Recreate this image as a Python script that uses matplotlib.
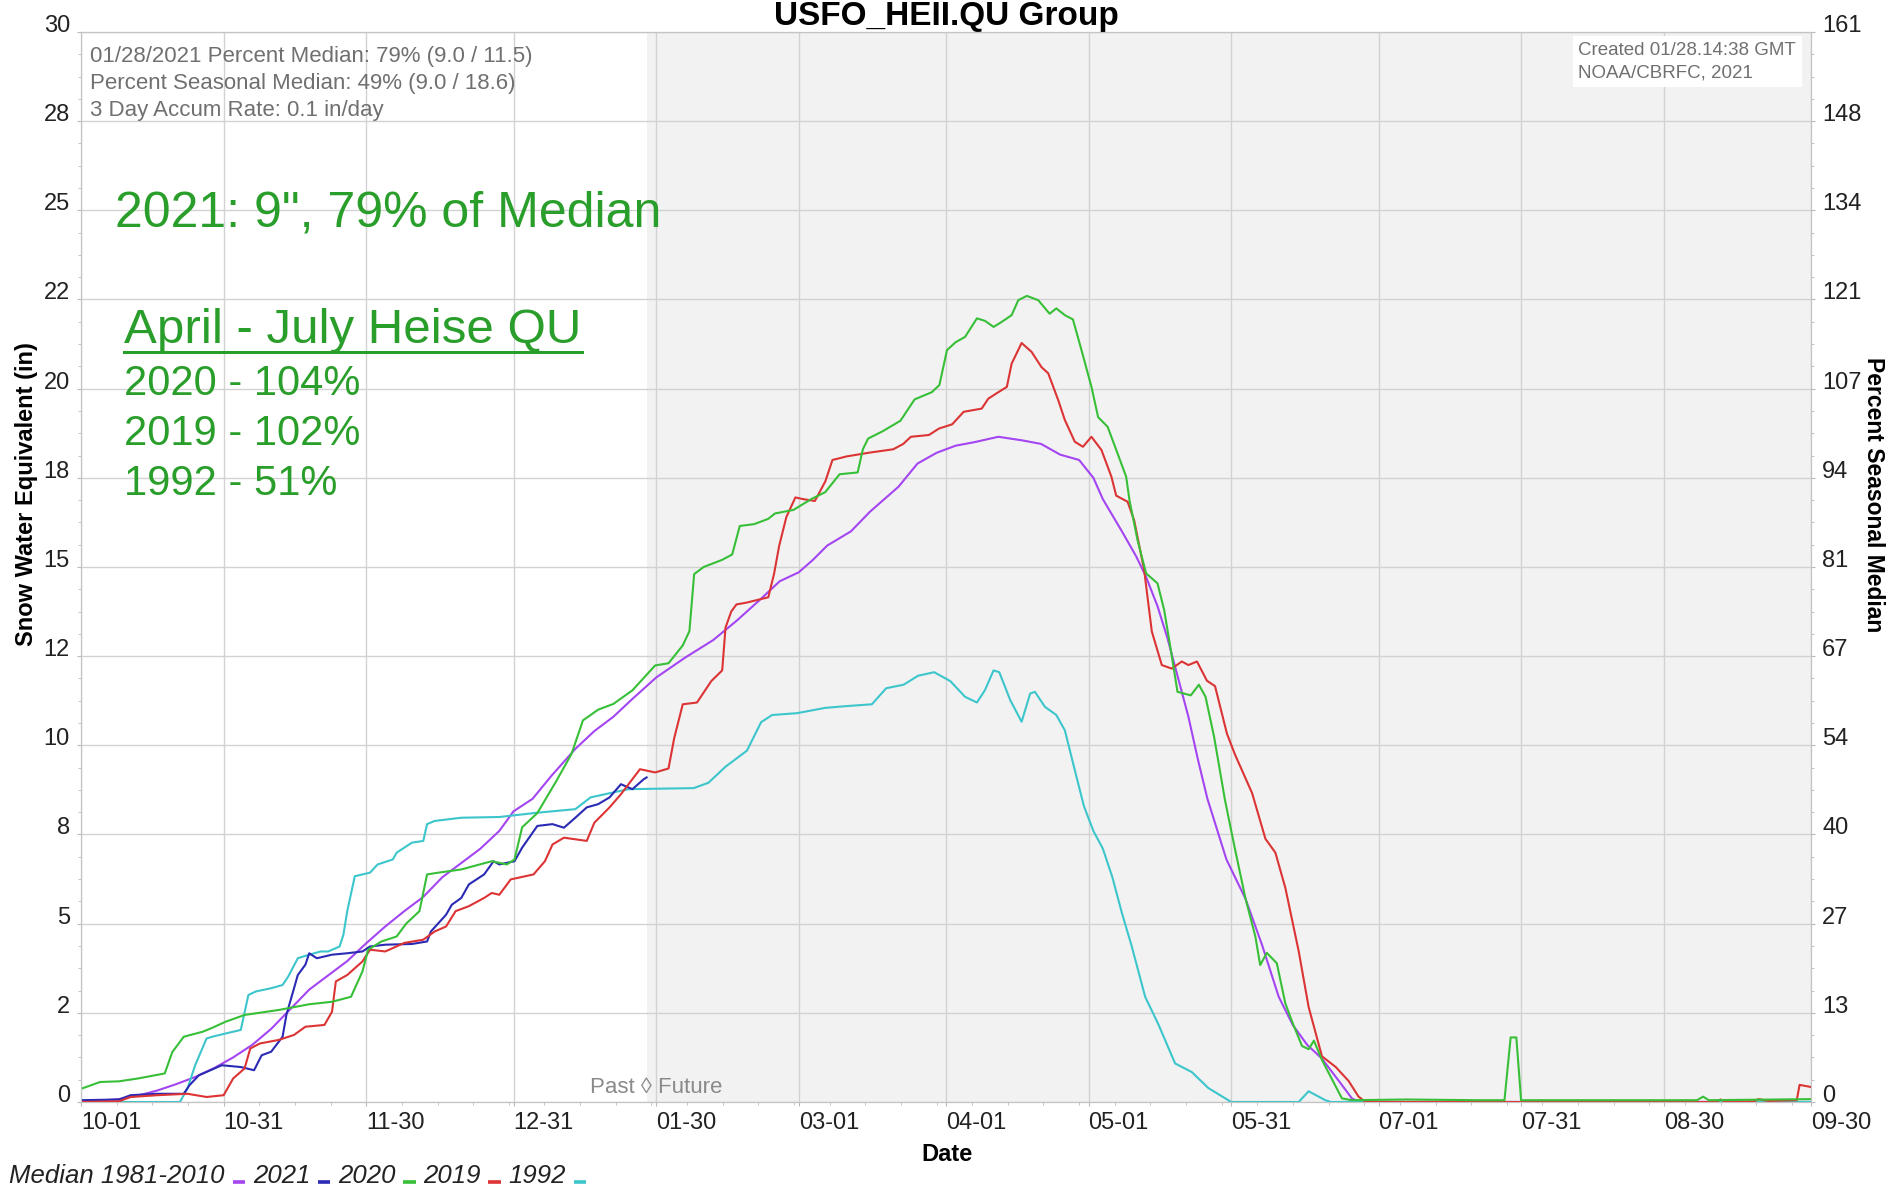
import matplotlib
matplotlib.use('Agg')
import matplotlib.pyplot as plt
from matplotlib.lines import Line2D
from matplotlib.offsetbox import AnchoredOffsetbox, DrawingArea, HPacker, TextArea
from matplotlib.ticker import AutoMinorLocator


plt.rcParams['font.family'] = ['Liberation Sans', 'DejaVu Sans']

# x values are days since 10-01 (water year), y values are SWE in inches
median_days = [0, 8, 12, 16, 20, 24, 28, 32, 36, 40, 44, 48, 52, 56, 60, 64, 68, 72, 76, 80,
               84, 88, 91, 95, 99, 104, 108, 112, 116, 121, 127, 133, 138, 143, 147, 151, 154,
               157, 162, 166, 169, 172, 176, 180, 184, 188, 193, 198, 202, 206, 210, 213, 215,
               219, 222, 224, 226.5, 228.6, 231, 233, 235, 237, 241, 245, 248.5, 252, 255, 258,
               261, 264.6, 267.4, 269, 364]
median_swe = [0.0, 0.08, 0.18, 0.32, 0.5, 0.7, 0.95, 1.25, 1.6, 2.05, 2.6, 3.15, 3.55, 3.95, 4.45,
              4.92, 5.35, 5.75, 6.3, 6.7, 7.1, 7.6, 8.15, 8.5, 9.15, 9.9, 10.4, 10.8, 11.3, 11.9,
              12.45, 12.95, 13.5, 14.1, 14.6, 14.85, 15.2, 15.6, 16.0, 16.55, 16.9, 17.25, 17.9,
              18.2, 18.4, 18.5, 18.65, 18.55, 18.45, 18.15, 18.0, 17.5, 16.9, 16.0, 15.3, 14.75,
              13.9, 13.0, 11.8, 10.8, 9.6, 8.5, 6.8, 5.7, 4.4, 2.95, 2.15, 1.6, 1.23, 0.6, 0.1,
              0.0, 0.0]

wy2021_days = [0, 8, 10.4, 16, 21.6, 22.8, 24.8, 29.6, 33.6, 36.4, 38, 40, 42.4, 43.2, 45.6, 47.2,
               48, 49.6, 52.8, 56, 59.2, 60.8, 64, 69.6, 72.8, 73.6, 76.8, 78, 80, 81.6, 84.8,
               86.8, 88, 91.2, 92.8, 96, 99.2, 101.6, 104, 106.4, 108.8, 111.2, 113.6, 116,
               118.4, 119]
wy2021_swe = [0.05, 0.07, 0.19, 0.23, 0.23, 0.47, 0.75, 1.03, 0.98, 0.89, 1.31, 1.41, 1.83, 2.44,
              3.56, 3.85, 4.17, 4.03, 4.13, 4.17, 4.22, 4.36, 4.41, 4.43, 4.5, 4.78, 5.25, 5.53,
              5.72, 6.1, 6.38, 6.75, 6.66, 6.75, 7.13, 7.74, 7.79, 7.69, 7.97, 8.26, 8.35, 8.54,
              8.91, 8.77, 9.05, 9.1]

wy2020_days = [0, 4, 8, 12, 17.6, 19.2, 21.6, 25.6, 27.6, 30.4, 34.4, 41.6, 48, 52.8, 56.8, 59.2,
               60.4, 63.2, 66.4, 68.4, 71.2, 72.8, 75.2, 80, 86.4, 89.6, 91.2, 92.8, 96, 100,
               103.2, 105.6, 108.8, 112, 116, 120.8, 123.6, 126.6, 128, 129, 131, 134.9, 137,
               138.6, 141.6, 144.6, 146, 149.9, 153.6, 156.6, 159.6, 163.4, 164.5, 165.6, 168.6,
               172.4, 173.9, 175.4, 179, 180.6, 182.2, 184, 186, 188.5, 190.2, 192, 193.7, 195.8,
               197.2, 199, 201.4, 203.8, 205.2, 207, 208.7, 210.5, 212.6, 214, 216, 218.1, 219.9,
               220.6, 222.3, 224.1, 226.5, 227.9, 229.3, 230.7, 233.5, 235.2, 236.6, 238.4,
               240.7, 242.8, 245, 247.1, 248.1, 249.5, 251.6, 253.4, 254.8, 256.9, 258.3, 259.4,
               261.1, 263.2, 265.3, 267.4, 279, 294, 299.5, 300.8, 302, 303, 340, 341.3, 342.5,
               364]
wy2020_swe = [0.37, 0.56, 0.58, 0.66, 0.8, 1.4, 1.83, 1.97, 2.08, 2.25, 2.44, 2.58, 2.74, 2.81,
              2.95, 3.66, 4.27, 4.5, 4.64, 5.0, 5.35, 6.38, 6.43, 6.52, 6.75, 6.66, 6.8, 7.7, 8.1,
              9.0, 9.76, 10.7, 11.0, 11.16, 11.54, 12.24, 12.3, 12.8, 13.2, 14.8, 15.0, 15.2,
              15.35, 16.15, 16.2, 16.35, 16.5, 16.6, 16.9, 17.1, 17.6, 17.65, 18.3, 18.6, 18.8,
              19.1, 19.4, 19.7, 19.9, 20.1, 21.08, 21.3, 21.45, 21.97, 21.9, 21.73, 21.87, 22.06,
              22.48, 22.6, 22.48, 22.1, 22.25, 22.06, 21.94, 21.08, 20.05, 19.2, 18.93, 18.18,
              17.53, 16.87, 15.75, 14.82, 14.54, 13.79, 12.67, 11.5, 11.4, 11.7, 11.36, 10.24,
              8.46, 7.09, 5.71, 4.63, 3.84, 4.18, 3.89, 2.76, 2.26, 1.57, 1.48, 1.72, 1.18, 0.64,
              0.1, 0.05, 0.07, 0.05, 0.05, 1.81, 1.81, 0.05, 0.05, 0.15, 0.05, 0.08]

wy2019_days = [0, 8, 10.4, 16, 22.4, 26.4, 30, 32, 34.4, 35.6, 37.6, 41.6, 44.8, 47.2, 51.2, 52.8,
               53.6, 56, 59.2, 60.8, 64, 68, 72, 74.4, 76.8, 78.8, 81.6, 84.8, 86.4, 88, 90.4,
               95.2, 97.6, 99.2, 101.6, 106.4, 108, 111.2, 113.6, 117.6, 120.8, 123.6, 124.8,
               126.6, 129.6, 132.6, 134.9, 135.6, 136.8, 137.9, 140, 144.6, 145.8, 146.9, 148.4,
               150.3, 152, 154.4, 156.6, 158.1, 161.1, 165.6, 170.9, 173, 174.6, 178.4, 180.5,
               183.3, 185.7, 189.5, 190.9, 193, 194.8, 195.8, 197.9, 200, 202.1, 203.5, 205.6, 207,
               209.1, 210.8, 212.6, 214.7, 216.8, 217.8, 220.2, 221.6, 223.7, 225.3, 227.4, 229.5,
               231.6, 233, 234.8, 236.9, 238.6, 241.1, 242.8, 246.4, 249.2, 251.3, 253.4, 256.2,
               258.3, 261.1, 264, 266.7, 268.8, 270.3, 344, 345, 346, 352, 353, 355, 361, 361.6,
               364]
wy2019_swe = [0.0, 0.02, 0.14, 0.19, 0.23, 0.14, 0.19, 0.66, 0.94, 1.5, 1.64, 1.74, 1.88, 2.11,
              2.16, 2.53, 3.38, 3.56, 3.94, 4.27, 4.22, 4.46, 4.55, 4.78, 4.92, 5.35, 5.49, 5.72,
              5.86, 5.81, 6.24, 6.38, 6.75, 7.22, 7.41, 7.32, 7.83, 8.26, 8.63, 9.33, 9.24, 9.35,
              10.2, 11.15, 11.2, 11.8, 12.1, 13.3, 13.75, 13.95, 14.0, 14.15, 14.8, 15.6, 16.4,
              16.95, 16.9, 16.85, 17.4, 18.0, 18.1, 18.2, 18.3, 18.45, 18.65, 18.7, 18.88, 19.0,
              19.35, 19.44, 19.72, 19.9, 20.05, 20.7, 21.28, 21.03, 20.6, 20.43, 19.68, 19.12,
              18.51, 18.37, 18.65, 18.28, 17.53, 17.0, 16.83, 16.3, 14.9, 13.19, 12.25, 12.15,
              12.35, 12.25, 12.35, 11.81, 11.66, 10.33, 9.74, 8.66, 7.38, 6.99, 6.0, 4.23, 2.66,
              1.28, 0.98, 0.59, 0.15, 0.0, 0.0, 0.07, 0.0, 0.02, 0.08, 0.03, 0.05, 0.48, 0.42]

wy1992_days = [0, 20.8, 22.4, 24, 26.4, 27.6, 30.4, 33.6, 35.2, 36.8, 40, 42.4, 43.6, 45.6, 48,
               50.4, 52, 54.4, 55.2, 56, 57.6, 60.8, 62.4, 65.6, 66.4, 69.6, 72, 72.8, 74.4, 80,
               88, 96, 104, 107.2, 112, 115.2, 128.9, 132, 135.6, 140.1, 143.1, 145.4, 150.6,
               156.6, 161.1, 166.4, 169.4, 173.1, 176.1, 179.5, 182.9, 186, 188.5, 190.2, 192,
               193.2, 195.5, 197.9, 199.7, 200.7, 202.8, 205.2, 207, 209.1, 211, 213, 215, 217,
               219, 221, 223.9, 226.7, 230.2, 233.7, 237.2, 242, 256.2, 258.3, 261.8, 263, 364]
wy1992_swe = [0.0, 0.0, 0.38, 1.03, 1.78, 1.83, 1.92, 2.02, 3.0, 3.1, 3.19, 3.28, 3.52, 4.03, 4.13,
              4.22, 4.22, 4.36, 4.69, 5.35, 6.33, 6.43, 6.66, 6.8, 6.99, 7.27, 7.32, 7.79, 7.88,
              7.97, 7.99, 8.11, 8.21, 8.54, 8.68, 8.77, 8.8, 8.95, 9.4, 9.85, 10.65, 10.85, 10.9,
              11.05, 11.1, 11.15, 11.6, 11.7, 11.95, 12.05, 11.8, 11.36, 11.2, 11.55, 12.1, 12.05,
              11.27, 10.66, 11.45, 11.5, 11.08, 10.85, 10.42, 9.3, 8.3, 7.6, 7.1, 6.3, 5.3, 4.4,
              2.95, 2.17, 1.08, 0.84, 0.39, 0.0, 0.0, 0.3, 0.05, 0.0, 0.0]

series_names = ['Median 1981-2010', '2021', '2020', '2019', '1992']
series_colors = ['#a445f2', '#2a2ab4', '#38bf38', '#dc3434', '#3cc6cc']

tick_days = [0, 30, 60, 91, 121, 151, 182, 212, 242, 273, 303, 333, 364]
tick_dates = ['10-01', '10-31', '11-30', '12-31', '01-30', '03-01', '04-01',
              '05-01', '05-31', '07-01', '07-31', '08-30', '09-30']
swe_ticks = [0, 2.5, 5, 7.5, 10, 12.5, 15, 17.5, 20, 22.5, 25, 27.5, 30]
swe_labels = ['0', '2', '5', '8', '10', '12', '15', '18', '20', '22', '25', '28', '30']
pct_labels = ['0', '13', '27', '40', '54', '67', '81', '94', '107', '121', '134', '148', '161']
today = 119  # 01/28, day the product was created

info_lines = ['01/28/2021 Percent Median: 79% (9.0 / 11.5)',
              'Percent Seasonal Median: 49% (9.0 / 18.6)',
              '3 Day Accum Rate: 0.1 in/day']
heise_lines = ['2020 - 104%', '2019 - 102%', '1992 - 51%']

GREEN_TXT = '#2a9e2a'
GRID = '#d2d2d2'


def style_axis(axis):
  for spine in axis.spines.values():
    spine.set_color('#c4c4c4')
  axis.tick_params(which='both', color='#b8b8b8', direction='out')
  axis.tick_params(which='major', length=3, labelsize=17, labelcolor='#222222')
  axis.tick_params(which='minor', length=2)


def main():
  fig = plt.figure(figsize=(18.9, 11.88), dpi=100)
  fig.subplots_adjust(left=0.0429, right=0.9582, bottom=0.0724, top=0.9731)
  ax = fig.add_subplot(111)

  # Future part of the water year is shaded
  ax.axvspan(today, 364, color='#f2f2f2', lw=0, zorder=0)
  ax.set_axisbelow(True)
  ax.grid(True, which='major', color=GRID, lw=1.0)

  all_days = [median_days, wy2021_days, wy2020_days, wy2019_days, wy1992_days]
  all_swe = [median_swe, wy2021_swe, wy2020_swe, wy2019_swe, wy1992_swe]
  zorders = [3, 4, 6, 5, 3.5]
  for days, swe, color, z in zip(all_days, all_swe, series_colors, zorders):
    ax.plot(days, swe, color=color, lw=1.5, zorder=z)

  ax.set_xlim(0, 364)
  ax.set_ylim(0, 30)
  ax.set_xticks(tick_days)
  ax.set_xticklabels(tick_dates, ha='left')
  ax.set_yticks(swe_ticks)
  ax.set_yticklabels(swe_labels, va='baseline')
  ax.xaxis.set_minor_locator(AutoMinorLocator(4))
  ax.yaxis.set_minor_locator(AutoMinorLocator(4))
  style_axis(ax)
  ax.tick_params(axis='x', which='major', pad=4)
  ax.tick_params(axis='y', which='major', pad=5)

  ax.set_xlabel('Date', fontsize=17, fontweight='bold')
  ax.xaxis.set_label_coords(0.5006, -0.038)
  ax.set_ylabel('Snow Water Equivalent (in)', fontsize=17, fontweight='bold')
  ax.yaxis.set_label_coords(-0.025, 0.568)
  ax.set_title('USFO_HEII.QU Group', fontsize=24, fontweight='bold', pad=0)

  # Right axis: percent of the seasonal median peak
  ax2 = ax.twinx()
  ax2.set_ylim(0, 30)
  ax2.set_yticks(swe_ticks)
  ax2.set_yticklabels(pct_labels, va='baseline')
  ax2.yaxis.set_minor_locator(AutoMinorLocator(4))
  style_axis(ax2)
  ax2.tick_params(axis='y', which='major', pad=5)
  ax2.set_ylabel('Percent Seasonal Median', fontsize=16.5, fontweight='bold', rotation=270,
                 va='bottom')
  ax2.yaxis.set_label_coords(1.0295, 0.568)

  # Info texts in the corners
  ax.text(0.0054, 0.987, '\n'.join(info_lines), transform=ax.transAxes, ha='left', va='top',
          fontsize=16, color='#707070', linespacing=1.37, zorder=7)
  ax.text(0.8655, 0.991, 'Created 01/28.14:38 GMT\nNOAA/CBRFC, 2021', transform=ax.transAxes,
          ha='left', va='top', fontsize=13.5, color='#707070', linespacing=1.45, zorder=7,
          bbox=dict(facecolor='white', edgecolor='none', pad=4))
  ax.text(121, 0.12, 'Past \u25ca Future', ha='center', va='bottom', fontsize=16,
          color='#8a8a8a', zorder=7)

  # Green annotations
  ax.text(0.0194, 0.830, '2021: 9", 79% of Median', transform=ax.transAxes, ha='left',
          va='center', fontsize=36, color=GREEN_TXT, zorder=7)
  heading = ax.text(0.025, 0.721, 'April - July Heise QU', transform=ax.transAxes, ha='left',
                    va='center', fontsize=35.5, color=GREEN_TXT, zorder=7)
  for i, line in enumerate(heise_lines):
    ax.text(0.025, 0.671 - i * 0.0465, line, transform=ax.transAxes, ha='left', va='center',
            fontsize=30, color=GREEN_TXT, zorder=7)

  # Underline the heading (matplotlib has no underline style)
  fig.canvas.draw()
  bb = heading.get_window_extent(fig.canvas.get_renderer())
  inv = fig.transFigure.inverted()
  (x0, y0), (x1, _) = inv.transform([(bb.x0, bb.y0 + 1), (bb.x1, bb.y0 + 1)])
  fig.add_artist(Line2D([x0, x1], [y0, y0], color=GREEN_TXT, lw=2.2))

  # Legend line at the bottom: label followed by a short coloured bar on the baseline
  parts = []
  for name, color in zip(series_names, series_colors):
    parts.append(TextArea(name, textprops=dict(fontsize=18.5, style='italic', color='#222222')))
    dash = DrawingArea(10, 3, 0, 0)
    dash.add_artist(Line2D([0.5, 9.5], [0.8, 0.8], color=color, lw=2.6, solid_capstyle='butt'))
    parts.append(dash)
  legend_row = HPacker(children=parts, align='baseline', pad=0, sep=5)
  anchored = AnchoredOffsetbox(loc='lower left', child=legend_row, pad=0, borderpad=0,
                               frameon=False, bbox_to_anchor=(0.005, 0.0),
                               bbox_transform=fig.transFigure)
  fig.add_artist(anchored)

  plt.savefig('out.png', dpi=100)
  plt.close()


if __name__ == '__main__':
  main()
